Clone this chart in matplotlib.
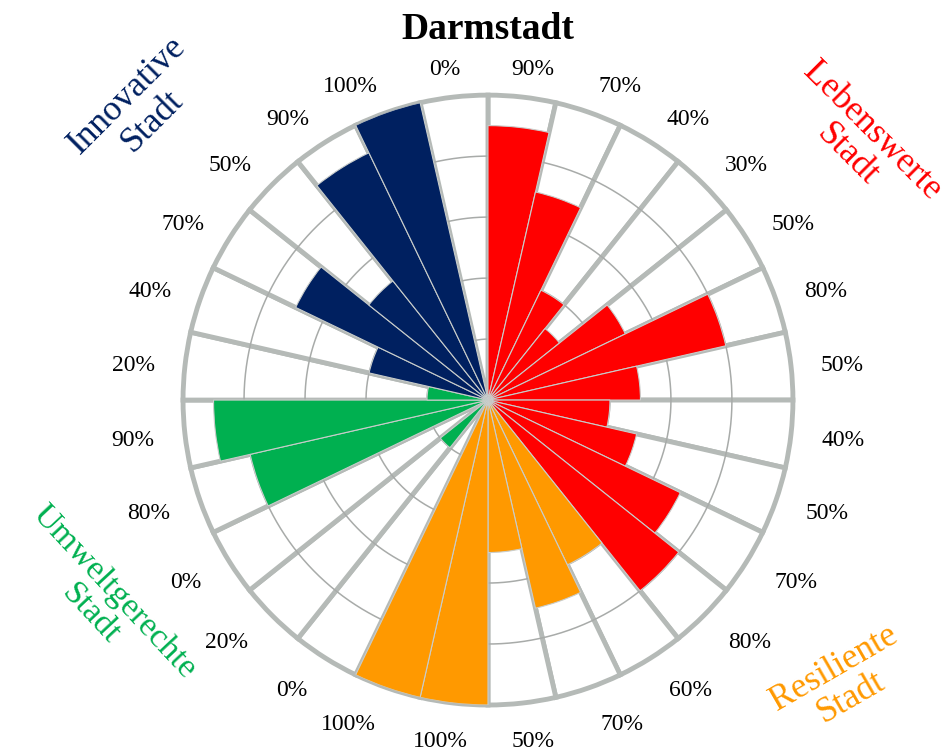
import numpy as np
import matplotlib
matplotlib.use("Agg")
import matplotlib.pyplot as plt

plt.rcParams['font.family'] = ['Liberation Serif', 'DejaVu Serif']

# values per sector, clockwise from the top
values = [90, 70, 40, 30, 50, 80, 50, 40, 50, 70, 80,
          60, 70, 50, 100, 100,
          0, 20, 0, 80, 90, 20,
          40, 70, 50, 90, 100, 0]
group_sizes = [11, 5, 6, 6]
group_colors = ['#FF0000', '#FF9900', '#00B050', '#002060']
group_names = ['Lebenswerte\nStadt', 'Resiliente\nStadt', 'Umweltgerechte\nStadt', 'Innovative\nStadt']
title = 'Darmstadt'

n = len(values)
width = 2 * np.pi / n
theta = np.arange(n) * width + width / 2
colors = []
for c, k in zip(group_colors, group_sizes):
    colors += [c] * k
r = np.array(values) / 100.0

grey = '#B5BAB7'

fig = plt.figure(figsize=(9.48, 7.52), dpi=100)
ax = fig.add_axes([0.193, 0.0625, 0.6435, 0.811], projection='polar')
ax.set_theta_zero_location('N')
ax.set_theta_direction(-1)

# white background wedges with thick grey spokes
ax.bar(theta, np.ones(n), width=width, color='white', edgecolor=grey,
       linewidth=3.5, zorder=1, clip_on=False)
# thin grid rings
tt = np.linspace(0, 2 * np.pi, 400)
for g in [0.2, 0.4, 0.6, 0.8]:
    ax.plot(tt, np.full_like(tt, g), color='#A8ABA9', lw=1.1, zorder=2)
# coloured bars
ax.bar(theta, r, width=width, color=colors, edgecolor='#C9CDCB',
       linewidth=0.8, zorder=3)

ax.set_ylim(0, 1)
ax.set_xticks([])
ax.set_yticks([])
ax.grid(False)
ax.spines['polar'].set_visible(False)

# percentage labels, pushed sideways so the box sits outside the ring
fs = 17
for t, v in zip(theta, values):
    s = f'{v}%'
    w_pts = (0.5 * (len(s) - 1) + 0.83) * fs
    dx = np.sign(np.sin(t)) * w_pts / 2 * min(1.0, 3 * abs(np.sin(t)))
    rr = 1.098 + 0.02 * max(0.0, -np.cos(t))
    ax.annotate(s, xy=(t, rr), xytext=(dx, 0), textcoords='offset points',
                ha='center', va='center_baseline', fontsize=fs, color='black',
                annotation_clip=False)

fig.text(0.5148, 0.966, title, ha='center', va='center_baseline', fontsize=27, fontweight='bold')

cat_fs = 25.5
fig.text(0.907, 0.810, group_names[0], ha='center', va='center', rotation=-45,
         fontsize=cat_fs, color=group_colors[0], multialignment='center', linespacing=1.05)
fig.text(0.889, 0.092, group_names[1], ha='center', va='center', rotation=30,
         fontsize=cat_fs, color=group_colors[1], multialignment='center', linespacing=1.05)
fig.text(0.108, 0.198, group_names[2], ha='center', va='center', rotation=-47,
         fontsize=24.5, color=group_colors[2], multialignment='center', linespacing=1.05)
fig.text(0.148, 0.856, group_names[3], ha='center', va='center', rotation=45,
         fontsize=cat_fs, color=group_colors[3], multialignment='center', linespacing=1.1)

fig.savefig('out.png', dpi=100)
